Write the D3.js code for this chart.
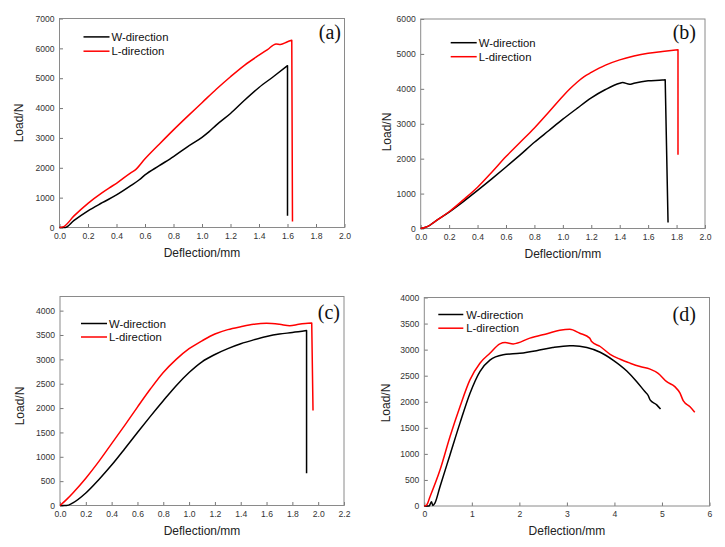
<!DOCTYPE html>
<html><head><meta charset="utf-8">
<script src="https://cdn.jsdelivr.net/npm/d3@7"></script>
<style>body{margin:0;background:#fff}svg{display:block}</style>
</head><body>
<svg id="c" width="725" height="547"></svg>
<script>
// ---------- DATA ----------
const seriesNames = ["W-direction", "L-direction"];
const panelLetters = ["(a)", "(b)", "(c)", "(d)"];
const xTicksA = [0,0.2,0.4,0.6,0.8,1.0,1.2,1.4,1.6,1.8,2.0];
const yTicksA = [0,1000,2000,3000,4000,5000,6000,7000];
const xTicksB = [0,0.2,0.4,0.6,0.8,1.0,1.2,1.4,1.6,1.8,2.0];
const yTicksB = [0,1000,2000,3000,4000,5000,6000];
const xTicksC = [0,0.2,0.4,0.6,0.8,1.0,1.2,1.4,1.6,1.8,2.0,2.2];
const yTicksC = [0,500,1000,1500,2000,2500,3000,3500,4000];
const xTicksD = [0,1,2,3,4,5,6];
const yTicksD = [0,500,1000,1500,2000,2500,3000,3500,4000];

const aW = [[0,0],[0.04,0],[0.1,230],[0.2,560],[0.3,830],[0.4,1090],[0.5,1400],[0.56,1600],[0.6,1760],[0.7,2070],[0.8,2375],[0.9,2710],[1.0,3020],[1.05,3210],[1.1,3430],[1.2,3820],[1.3,4270],[1.4,4690],[1.5,5050],[1.6,5420],[1.6,390]];
const aL = [[0,0],[0.03,30],[0.1,380],[0.2,810],[0.3,1170],[0.35,1330],[0.4,1480],[0.5,1830],[0.53,1920],[0.6,2300],[0.7,2790],[0.8,3270],[0.9,3730],[1.0,4180],[1.1,4630],[1.2,5050],[1.3,5440],[1.4,5770],[1.46,5960],[1.52,6150],[1.55,6130],[1.6,6220],[1.63,6270],[1.635,200]];
const bW = [[0,0],[0.05,60],[0.1,200],[0.2,470],[0.3,770],[0.4,1090],[0.5,1420],[0.6,1760],[0.7,2110],[0.8,2470],[0.9,2800],[1.0,3130],[1.1,3440],[1.2,3740],[1.3,3980],[1.4,4160],[1.42,4180],[1.47,4130],[1.5,4160],[1.6,4230],[1.7,4250],[1.72,4260],[1.74,170]];
const bL = [[0,0],[0.05,60],[0.1,200],[0.2,480],[0.3,820],[0.4,1180],[0.5,1610],[0.6,2060],[0.7,2470],[0.8,2880],[0.9,3330],[1.0,3790],[1.05,4000],[1.1,4190],[1.15,4350],[1.2,4470],[1.3,4680],[1.4,4830],[1.5,4940],[1.6,5020],[1.7,5070],[1.81,5120],[1.81,2110]];
const cW = [[0,0],[0.05,0],[0.1,55],[0.2,257],[0.3,530],[0.4,830],[0.5,1160],[0.6,1500],[0.7,1830],[0.8,2150],[0.9,2460],[1.0,2730],[1.1,2950],[1.2,3100],[1.3,3220],[1.4,3320],[1.5,3400],[1.6,3470],[1.7,3520],[1.8,3550],[1.91,3590],[1.91,660]];
const cL = [[0,0],[0.05,120],[0.1,257],[0.2,560],[0.3,900],[0.4,1270],[0.5,1640],[0.6,2020],[0.7,2390],[0.8,2730],[0.9,3000],[1.0,3220],[1.1,3380],[1.2,3520],[1.3,3610],[1.4,3670],[1.5,3720],[1.6,3740],[1.7,3720],[1.78,3690],[1.85,3720],[1.9,3735],[1.95,3745],[1.96,1950]];
const dW = [[0,0],[0.1,0],[0.15,80],[0.18,10],[0.22,50],[0.33,370],[0.54,980],[0.75,1590],[0.96,2160],[1.17,2580],[1.38,2800],[1.66,2900],[2.01,2930],[2.36,2980],[2.7,3040],[3.06,3075],[3.13,3075],[3.42,3040],[3.7,2950],[3.97,2800],[4.26,2590],[4.47,2385],[4.64,2195],[4.71,2120],[4.75,2035],[4.89,1940],[4.97,1860]];
const dL = [[0,0],[0.05,20],[0.12,178],[0.33,690],[0.54,1330],[0.75,1905],[0.96,2420],[1.17,2740],[1.38,2930],[1.59,3110],[1.7,3135],[1.87,3110],[2.22,3220],[2.6,3310],[2.85,3370],[3.06,3390],[3.27,3315],[3.48,3220],[3.52,3155],[3.7,3060],[3.91,2910],[4.12,2815],[4.33,2740],[4.54,2675],[4.75,2625],[4.92,2545],[5.1,2385],[5.27,2290],[5.38,2165],[5.45,2015],[5.59,1905],[5.69,1800]];

// ---------- LAYOUT ----------
const panels = [
  {l:59.5,r:344.5,t:18.5,b:227.5,xd:[0,2],yd:[0,7000],xt:xTicksA,yt:yTicksA,fmt:".1f",W:aW,L:aL,
   leg:{x1:24,x2:50,y1:18.4,y2:32.7,tx:52}, let:{x:-3.5,y:14.5}, ylab:{dx:-41,y:123}},
  {l:420.7,r:705,t:19,b:228.5,xd:[0,2],yd:[0,6000],xt:xTicksB,yt:yTicksB,fmt:".1f",W:bW,L:bL,
   leg:{x1:30,x2:56,y1:23.7,y2:37.7,tx:58}, let:{x:-9,y:14}, ylab:{dx:-34,y:132}},
  {l:60,r:344,t:296.5,b:505.5,xd:[0,2.2],yd:[0,4290],xt:xTicksC,yt:yTicksC,fmt:".1f",W:cW,L:cL,
   leg:{x1:21,x2:47,y1:27,y2:40.5,tx:49}, let:{x:-4,y:16.5}, ylab:{dx:-40,y:406}},
  {l:424.3,r:709.5,t:297.5,b:506,xd:[0,6],yd:[0,4000],xt:xTicksD,yt:yTicksD,fmt:"d",W:dW,L:dL,
   leg:{x1:14,x2:39,y1:17,y2:30.7,tx:42}, let:{x:-13.7,y:17}, ylab:{dx:-39,y:403}}
];

const svg = d3.select("#c");
const colors = ["#000000", "#ff0000"];

panels.forEach((p, i) => {
  const x = d3.scaleLinear().domain(p.xd).range([p.l, p.r]);
  const y = d3.scaleLinear().domain(p.yd).range([p.b, p.t]);
  const g = svg.append("g");

  const ax = g.append("g").attr("transform", `translate(0,${p.b})`)
    .call(d3.axisBottom(x).tickValues(p.xt).tickFormat(d3.format(p.fmt)).tickSize(-3.5).tickPadding(5));
  const ay = g.append("g").attr("transform", `translate(${p.l},0)`)
    .call(d3.axisLeft(y).tickValues(p.yt).tickFormat(d3.format("d")).tickSize(-3.5).tickPadding(5));
  [ax, ay].forEach(a => {
    a.select(".domain").remove();
    a.selectAll("line").attr("stroke", "#777");
    a.selectAll("text").attr("fill", "#333").style("font-family", "'Liberation Sans', Arial, sans-serif").style("font-size", "8.6px");
  });

  g.append("rect").attr("x", p.l).attr("y", p.t).attr("width", p.r - p.l).attr("height", p.b - p.t)
    .attr("fill", "none").attr("stroke", "#8a8a8a").attr("stroke-width", 1);

  const smooth = d3.line().x(d => x(d[0])).y(d => y(d[1])).curve(d3.curveMonotoneX);
  [p.W, p.L].forEach((data, k) => {
    const n = data.length;
    const hasDrop = Math.abs(data[n - 1][0] - data[n - 2][0]) < 0.03;
    const body = hasDrop ? data.slice(0, n - 1) : data;
    let d = smooth(body);
    if (hasDrop) d += "L" + x(data[n - 1][0]) + "," + y(data[n - 1][1]);
    g.append("path").attr("d", d).attr("fill", "none")
      .attr("stroke", colors[k]).attr("stroke-width", 1.5).attr("stroke-linejoin", "round");
  });

  [p.leg.y1, p.leg.y2].forEach((ly, k) => {
    g.append("line").attr("x1", p.l + p.leg.x1).attr("x2", p.l + p.leg.x2)
      .attr("y1", p.t + ly).attr("y2", p.t + ly).attr("stroke", colors[k]).attr("stroke-width", 1.5);
    g.append("text").attr("x", p.l + p.leg.tx).attr("y", p.t + ly).attr("dy", "0.36em")
      .style("font-family", "'Liberation Sans', Arial, sans-serif").style("font-size", "11.3px")
      .attr("fill", "#111").text(seriesNames[k]);
  });

  g.append("text").attr("x", p.r + p.let.x).attr("y", p.t + p.let.y).attr("dy", "0.3em")
    .attr("text-anchor", "end").style("font-family", "'Liberation Serif', 'Times New Roman', serif")
    .style("font-size", "20px").attr("fill", "#111").text(panelLetters[i]);

  g.append("text").attr("x", (p.l + p.r) / 2).attr("y", p.b + 29).attr("text-anchor", "middle")
    .style("font-family", "'Liberation Sans', Arial, sans-serif").style("font-size", "12px")
    .attr("fill", "#222").text("Deflection/mm");
  g.append("text").attr("transform", `translate(${p.l + p.ylab.dx},${p.ylab.y}) rotate(-90)`)
    .attr("text-anchor", "middle").attr("dy", "0.36em")
    .style("font-family", "'Liberation Sans', Arial, sans-serif").style("font-size", "12px")
    .attr("fill", "#222").text("Load/N");
});
</script>
</body></html>
